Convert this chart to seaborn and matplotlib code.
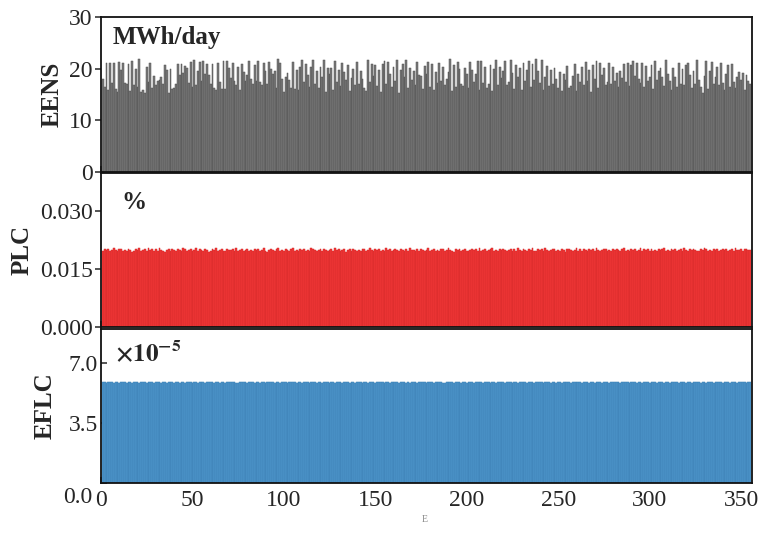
import matplotlib
matplotlib.use("Agg")
import matplotlib.pyplot as plt
import seaborn as sns
import pandas as pd

# ---------------- data ----------------
eens = [
    18.0, 16.5, 21.0, 15.8, 21.1, 17.2, 21.0, 16.0, 15.5, 21.3, 19.8, 21.0, 17.2, 17.1, 20.8, 15.6, 21.5, 16.8, 19.9, 16.4,
    21.8, 15.4, 15.9, 15.2, 20.4, 17.3, 21.1, 16.2, 18.5, 16.9, 17.6, 17.8, 18.3, 17.1, 20.6, 19.8, 15.3, 19.9, 16.0, 16.2,
    17.0, 20.8, 18.7, 20.9, 19.2, 20.5, 20.2, 17.2, 21.3, 16.4, 21.7, 16.9, 19.6, 21.3, 17.6, 21.4, 19.0, 20.9, 18.8, 17.1,
    20.8, 16.3, 15.8, 21.0, 17.3, 16.0, 21.5, 16.1, 21.5, 20.2, 18.2, 21.1, 17.5, 16.8, 20.4, 15.8, 20.9, 19.4, 17.5, 18.8,
    21.4, 18.0, 17.1, 20.7, 17.5, 21.5, 17.4, 16.9, 21.0, 19.6, 17.0, 21.2, 20.0, 18.9, 19.6, 16.3, 21.9, 21.0, 17.9, 15.5,
    18.4, 19.2, 17.8, 16.3, 21.2, 16.0, 19.7, 15.8, 20.3, 21.7, 17.4, 20.9, 18.8, 16.5, 20.4, 21.6, 17.1, 19.5, 16.2, 20.3,
    18.3, 21.7, 15.5, 20.2, 18.9, 20.1, 15.8, 21.4, 17.4, 19.8, 16.6, 21.1, 19.3, 17.8, 20.6, 15.6, 18.2, 20.0, 16.9, 21.3,
    17.1, 19.5, 18.0, 16.2, 15.6, 21.6, 17.4, 20.8, 18.6, 20.6, 16.7, 19.7, 15.5, 20.9, 21.5, 17.0, 21.2, 19.0, 16.5, 20.4,
    17.6, 21.6, 15.3, 19.8, 20.9, 18.4, 21.7, 16.3, 20.2, 17.8, 19.6, 16.9, 21.3, 18.8, 18.6, 16.1, 20.5, 19.0, 21.2, 16.5,
    20.9, 15.8, 19.4, 17.2, 21.0, 17.6, 20.4, 16.8, 17.9, 19.3, 21.8, 15.6, 20.7, 16.4, 21.2, 19.9, 17.0, 16.6, 20.1, 18.9,
    16.3, 21.3, 19.8, 17.4, 18.9, 21.5, 15.9, 21.4, 17.2, 20.4, 16.2, 17.1, 20.6, 15.7, 19.9, 21.6, 16.8, 20.3, 18.1, 19.6,
    21.4, 16.9, 17.3, 21.7, 19.2, 16.1, 20.6, 18.3, 20.1, 15.8, 21.0, 17.5, 19.8, 21.5, 16.4, 20.8, 17.7, 21.9, 19.6, 17.2,
    21.6, 15.9, 18.4, 20.5, 16.6, 19.7, 17.1, 20.2, 17.9, 16.3, 19.4, 15.7, 18.9, 17.8, 20.5, 16.2, 16.7, 18.5, 20.9, 15.6,
    19.0, 17.4, 20.4, 16.9, 21.2, 17.5, 19.8, 15.4, 20.6, 17.9, 21.4, 16.3, 21.0, 18.8, 20.2, 16.8, 17.4, 21.1, 17.0, 20.3,
    17.6, 19.1, 16.5, 19.6, 18.2, 20.8, 17.3, 21.1, 16.7, 20.6, 21.5, 18.6, 21.0, 17.9, 17.2, 21.1, 16.4, 20.5, 17.6, 18.3,
    20.7, 16.1, 21.4, 17.8, 19.5, 20.2, 18.3, 16.6, 21.7, 19.0, 17.5, 15.8, 20.2, 18.4, 16.4, 21.0, 17.1, 19.9, 16.8, 20.7,
    21.1, 18.7, 16.2, 19.5, 17.1, 21.6, 17.8, 16.4, 15.3, 18.6, 21.4, 16.1, 19.6, 21.2, 17.0, 18.3, 20.4, 16.9, 21.0, 17.2,
    15.8, 18.9, 20.6, 16.5, 20.8, 17.4, 16.2, 18.3, 19.3, 17.8, 19.2, 15.9, 18.7, 17.6, 17.1,
]

plc = [
    0.0198, 0.0201, 0.0199, 0.0203, 0.0197, 0.0200, 0.0205, 0.0199, 0.0196, 0.0201, 0.0203, 0.0198, 0.0200, 0.0197, 0.0202, 0.0199, 0.0195, 0.0198, 0.0201, 0.0200,
    0.0204, 0.0197, 0.0199, 0.0202, 0.0196, 0.0205, 0.0200, 0.0203, 0.0198, 0.0201, 0.0197, 0.0204, 0.0199, 0.0196, 0.0195, 0.0200, 0.0202, 0.0198, 0.0201, 0.0199,
    0.0196, 0.0203, 0.0200, 0.0198, 0.0205, 0.0201, 0.0197, 0.0199, 0.0202, 0.0196, 0.0200, 0.0204, 0.0198, 0.0201, 0.0199, 0.0197, 0.0203, 0.0200, 0.0195, 0.0198,
    0.0201, 0.0199, 0.0204, 0.0197, 0.0200, 0.0202, 0.0198, 0.0196, 0.0203, 0.0200, 0.0199, 0.0201, 0.0197, 0.0205, 0.0198, 0.0200, 0.0202, 0.0196, 0.0199, 0.0203,
    0.0198, 0.0200, 0.0196, 0.0201, 0.0199, 0.0203, 0.0197, 0.0200, 0.0204, 0.0198, 0.0195, 0.0199, 0.0202, 0.0200, 0.0197, 0.0201, 0.0205, 0.0198, 0.0200, 0.0196,
    0.0202, 0.0199, 0.0197, 0.0201, 0.0204, 0.0198, 0.0200, 0.0196, 0.0203, 0.0199, 0.0201, 0.0197, 0.0200, 0.0198, 0.0205, 0.0202, 0.0199, 0.0196, 0.0200, 0.0203,
    0.0197, 0.0201, 0.0199, 0.0196, 0.0200, 0.0203, 0.0198, 0.0204, 0.0199, 0.0201, 0.0197, 0.0200, 0.0202, 0.0195, 0.0199, 0.0201, 0.0198, 0.0203, 0.0200, 0.0197,
    0.0200, 0.0198, 0.0203, 0.0201, 0.0196, 0.0199, 0.0205, 0.0200, 0.0197, 0.0202, 0.0199, 0.0201, 0.0196, 0.0200, 0.0198, 0.0204, 0.0199, 0.0201, 0.0197, 0.0200,
    0.0203, 0.0199, 0.0196, 0.0201, 0.0200, 0.0198, 0.0202, 0.0197, 0.0205, 0.0199, 0.0200, 0.0196, 0.0203, 0.0198, 0.0201, 0.0199, 0.0197, 0.0200, 0.0204, 0.0198,
    0.0199, 0.0202, 0.0198, 0.0200, 0.0196, 0.0203, 0.0201, 0.0197, 0.0199, 0.0204, 0.0200, 0.0198, 0.0195, 0.0201, 0.0199, 0.0203, 0.0197, 0.0200, 0.0202, 0.0198,
    0.0196, 0.0200, 0.0203, 0.0199, 0.0201, 0.0197, 0.0205, 0.0198, 0.0200, 0.0202, 0.0196, 0.0199, 0.0201, 0.0204, 0.0198, 0.0200, 0.0197, 0.0203, 0.0199, 0.0201,
    0.0200, 0.0197, 0.0199, 0.0202, 0.0198, 0.0201, 0.0196, 0.0204, 0.0200, 0.0198, 0.0203, 0.0199, 0.0197, 0.0201, 0.0200, 0.0205, 0.0198, 0.0196, 0.0202, 0.0199,
    0.0201, 0.0198, 0.0204, 0.0200, 0.0197, 0.0199, 0.0203, 0.0201, 0.0196, 0.0200, 0.0198, 0.0202, 0.0199, 0.0195, 0.0201, 0.0203, 0.0200, 0.0197, 0.0199, 0.0204,
    0.0198, 0.0201, 0.0197, 0.0203, 0.0200, 0.0196, 0.0202, 0.0199, 0.0201, 0.0198, 0.0205, 0.0200, 0.0197, 0.0199, 0.0203, 0.0201, 0.0198, 0.0200, 0.0196, 0.0202,
    0.0199, 0.0203, 0.0200, 0.0197, 0.0201, 0.0204, 0.0198, 0.0200, 0.0196, 0.0202, 0.0199, 0.0201, 0.0197, 0.0200, 0.0205, 0.0198, 0.0203, 0.0199, 0.0201, 0.0197,
    0.0202, 0.0198, 0.0200, 0.0196, 0.0203, 0.0199, 0.0201, 0.0204, 0.0197, 0.0200, 0.0198, 0.0202, 0.0199, 0.0201, 0.0196, 0.0200, 0.0203, 0.0198, 0.0205, 0.0200,
    0.0197, 0.0201, 0.0199, 0.0203, 0.0200, 0.0198, 0.0196, 0.0202, 0.0199, 0.0204, 0.0201, 0.0197, 0.0200, 0.0198, 0.0203, 0.0199, 0.0201, 0.0196, 0.0200, 0.0202,
    0.0199, 0.0203, 0.0198, 0.0200, 0.0201, 0.0197, 0.0204, 0.0199, 0.0200, 0.0202, 0.0198, 0.0201, 0.0203, 0.0199, 0.0200,
]

# EFLC in units of 1e-5
eflc = [
    5.87, 5.89, 5.86, 5.88, 5.90, 5.87, 5.85, 5.88, 5.89, 5.86, 5.88, 5.91, 5.87, 5.86, 5.89, 5.88, 5.85, 5.87, 5.90, 5.88,
    5.86, 5.88, 5.87, 5.90, 5.85, 5.89, 5.87, 5.88, 5.86, 5.91, 5.88, 5.87, 5.85, 5.89, 5.88, 5.86, 5.90, 5.87, 5.88, 5.86,
    5.89, 5.87, 5.85, 5.88, 5.90, 5.86, 5.88, 5.87, 5.89, 5.85, 5.88, 5.90, 5.86, 5.87, 5.89, 5.88, 5.86, 5.91, 5.87, 5.88,
    5.88, 5.86, 5.89, 5.87, 5.85, 5.90, 5.88, 5.86, 5.87, 5.89, 5.91, 5.87, 5.88, 5.86, 5.85, 5.89, 5.87, 5.88, 5.90, 5.86,
    5.87, 5.90, 5.88, 5.86, 5.89, 5.87, 5.85, 5.88, 5.90, 5.86, 5.87, 5.89, 5.88, 5.91, 5.86, 5.87, 5.88, 5.85, 5.89, 5.87,
    5.89, 5.86, 5.87, 5.88, 5.91, 5.87, 5.86, 5.89, 5.88, 5.85, 5.87, 5.90, 5.88, 5.86, 5.89, 5.87, 5.88, 5.86, 5.90, 5.87,
    5.86, 5.88, 5.90, 5.87, 5.85, 5.88, 5.89, 5.86, 5.87, 5.91, 5.88, 5.86, 5.89, 5.87, 5.88, 5.85, 5.90, 5.87, 5.86, 5.89,
    5.88, 5.87, 5.85, 5.89, 5.88, 5.86, 5.90, 5.87, 5.89, 5.86, 5.88, 5.87, 5.91, 5.88, 5.86, 5.89, 5.87, 5.85, 5.88, 5.90,
    5.87, 5.89, 5.86, 5.88, 5.87, 5.90, 5.85, 5.88, 5.86, 5.89, 5.87, 5.88, 5.86, 5.90, 5.88, 5.87, 5.89, 5.86, 5.91, 5.87,
    5.88, 5.86, 5.89, 5.87, 5.90, 5.88, 5.86, 5.85, 5.89, 5.87, 5.88, 5.90, 5.86, 5.87, 5.89, 5.88, 5.85, 5.87, 5.89, 5.86,
    5.89, 5.87, 5.88, 5.86, 5.91, 5.87, 5.88, 5.89, 5.86, 5.87, 5.90, 5.88, 5.85, 5.87, 5.89, 5.86, 5.88, 5.90, 5.87, 5.88,
    5.86, 5.89, 5.87, 5.88, 5.85, 5.90, 5.87, 5.86, 5.89, 5.88, 5.87, 5.91, 5.86, 5.88, 5.87, 5.89, 5.86, 5.88, 5.90, 5.87,
    5.88, 5.86, 5.90, 5.87, 5.89, 5.86, 5.88, 5.87, 5.85, 5.89, 5.88, 5.86, 5.90, 5.87, 5.88, 5.89, 5.86, 5.87, 5.91, 5.88,
    5.87, 5.89, 5.86, 5.88, 5.90, 5.87, 5.85, 5.89, 5.88, 5.86, 5.87, 5.90, 5.88, 5.86, 5.89, 5.87, 5.88, 5.85, 5.89, 5.87,
    5.89, 5.87, 5.88, 5.86, 5.90, 5.88, 5.87, 5.89, 5.86, 5.91, 5.87, 5.88, 5.86, 5.89, 5.87, 5.85, 5.88, 5.90, 5.87, 5.86,
    5.88, 5.90, 5.87, 5.86, 5.89, 5.87, 5.88, 5.85, 5.90, 5.88, 5.86, 5.87, 5.89, 5.88, 5.91, 5.86, 5.87, 5.89, 5.88, 5.86,
    5.87, 5.88, 5.86, 5.90, 5.87, 5.89, 5.88, 5.86, 5.87, 5.89, 5.85, 5.88, 5.90, 5.87, 5.86, 5.89, 5.88, 5.87, 5.90, 5.86,
    5.88, 5.87, 5.89, 5.86, 5.90, 5.88, 5.87, 5.86, 5.89, 5.88, 5.87, 5.90, 5.86, 5.88, 5.87,
]

days = list(range(1, len(eens) + 1))

x_ticks = [0, 50, 100, 150, 200, 250, 300, 350]
eens_ticks = [0, 10, 20, 30]
plc_ticks = [0.000, 0.015, 0.030]
plc_ticklabels = ["0.000", "0.015", "0.030"]
eflc_ticks = [0.0, 3.5, 7.0]
eflc_ticklabels = ["", "3.5", "7.0"]

# ---------------- style ----------------
sns.set_style("ticks")
plt.rcParams["font.family"] = ["Liberation Serif", "DejaVu Serif"]
plt.rcParams["mathtext.fontset"] = "stix"
plt.rcParams["axes.linewidth"] = 1.3

W, H = 761, 538
fig = plt.figure(figsize=(W / 100, H / 100), dpi=100)

left, right = 101, 752
panels = [(17, 171.7), (173, 326.7), (329, 482.7)]
axes = []
for top, bot in panels:
    ax = fig.add_axes([left / W, 1 - bot / H, (right - left) / W, (bot - top) / H])
    axes.append(ax)

df = pd.DataFrame({"day": days, "EENS": eens, "PLC": plc, "EFLC": eflc})

specs = [
    ("EENS", "#7a7a7a", "#4e4e4e", (0, 30), eens_ticks, None, "EENS", -0.058),
    ("PLC", "#f23636", "#d42a2a", (0, 0.04), plc_ticks, plc_ticklabels, "PLC", -0.104),
    ("EFLC", "#4d94ca", "#3c80b4", (0, 9), eflc_ticks, eflc_ticklabels, "EFLC", -0.068),
]

for i, (ax, (col, fc, ec, ylim, yt, ytl, ylab, labx)) in enumerate(zip(axes, specs)):
    sns.barplot(data=df, x="day", y=col, native_scale=True, color=fc,
                saturation=1, width=1.0, edgecolor=ec, linewidth=0.35,
                errorbar=None, ax=ax)
    ax.set_xlim(0, 356)
    ax.set_ylim(*ylim)
    ax.set_xticks(x_ticks)
    ax.set_yticks(yt)
    if ytl is not None:
        ax.set_yticklabels(ytl)
    ax.set_ylabel(ylab, fontsize=18, fontweight="bold")
    ax.yaxis.set_label_coords(labx, 0.5)
    ax.set_xlabel("")
    for s in ax.spines.values():
        s.set_visible(True)
        s.set_color("#111111")
        s.set_zorder(5)
    ax.tick_params(axis="x", direction="in", length=4, width=1.1, labelsize=17, pad=5)
    ax.tick_params(axis="y", direction="out" if i < 2 else "in", length=4, width=1.1, labelsize=17, pad=2)
    if i < 2:
        ax.tick_params(axis="x", labelbottom=False)

# unit annotations
axes[0].text(0.018, 0.87, "MWh/day", transform=axes[0].transAxes, fontsize=18,
             fontweight="bold", ha="left", va="center")
axes[1].text(0.032, 0.81, "%", transform=axes[1].transAxes, fontsize=18,
             fontweight="bold", ha="left", va="center")
axes[2].text(0.021, 0.84, r"$\mathbf{\times 10^{-5}}$", transform=axes[2].transAxes,
             fontsize=18, ha="left", va="center")

# lowered "0.0" label on bottom panel
axes[2].annotate("0.0", xy=(0, 0), xycoords=("axes fraction", "data"),
                 xytext=(-6.5, -11), textcoords="offset points",
                 ha="right", va="center", fontsize=17)

fig.text(425 / W, 1 - 520 / H, "E", fontsize=7, color="#888888", ha="center", va="center")

fig.savefig("out.png", dpi=100)
